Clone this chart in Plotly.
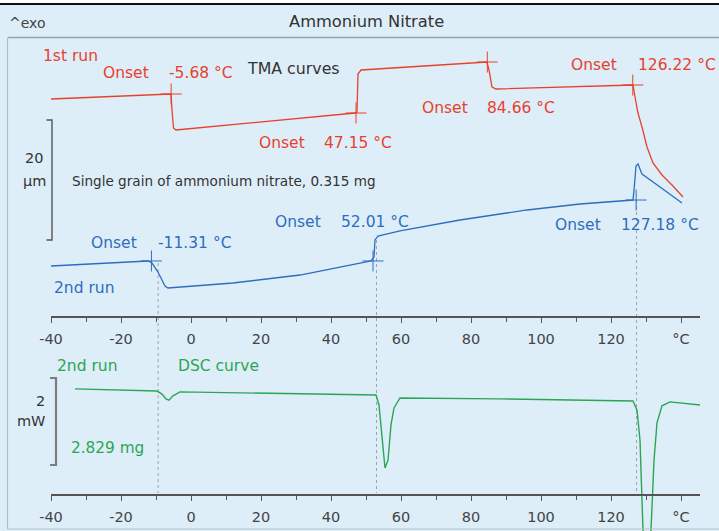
import plotly.graph_objects as go

W, H = 719, 531

# ---------------- data ----------------
# TMA 1st run (temperature °C, displacement µm, arbitrary offset)
run1_T = [-40.0, -6.0, -5.71, -5.43, -5.0, -4.29, 21.14, 46.86, 47.43, 47.71, 48.57, 84.57, 85.14, 86.0, 87.14,
          126.29, 126.86, 127.71, 128.86, 130.29, 132.0, 134.57, 137.43, 140.57]
run1_um = [36.17, 37.0, 37.0, 34.33, 31.33, 31.0, 32.4, 33.83, 34.0, 40.33, 41.0, 42.33, 41.0, 38.17, 37.83,
           38.5, 36.5, 33.83, 31.5, 28.17, 25.5, 23.5, 21.83, 19.83]

# TMA 2nd run
run2_T = [-40.0, -26.0, -12.29, -11.14, -9.43, -7.43, -6.57, 12.0, 31.14, 48.29, 51.43, 52.29, 52.57, 53.43,
          59.71, 76.86, 96.0, 111.14, 126.29, 126.71, 127.14, 127.71, 128.86, 134.0, 140.29]
run2_um = [8.33, 8.75, 9.17, 8.83, 7.33, 5.0, 4.67, 5.5, 6.83, 8.83, 9.17, 9.83, 12.67, 13.33,
           14.17, 16.0, 17.67, 18.67, 19.33, 21.83, 25.0, 25.33, 23.67, 21.5, 18.83]

# DSC 2nd run (mW, arbitrary offset)
dsc_T = [-33.14, -9.71, -8.29, -7.14, -6.29, -5.14, -3.14, 22.57, 48.29, 52.86, 53.71, 54.57, 55.43, 56.29,
         57.14, 58.0, 59.71, 88.29, 126.29, 127.43, 128.29, 129.14, 130.29, 131.43, 132.29, 133.14, 134.57,
         136.86, 145.43]
dsc_mW = [2.44, 2.39, 2.32, 2.21, 2.18, 2.28, 2.37, 2.34, 2.31, 2.30, 2.07, 1.38, 0.62, 0.80,
          1.61, 2.0, 2.23, 2.21, 2.16, 1.95, 1.26, -0.80, -2.87, -0.80, 0.80, 1.66, 2.05,
          2.14, 2.07]

# Onsets
run1_onset_T = [-5.68, 47.15, 84.66, 126.22]
run1_onset_um = [37.0, 33.83, 42.33, 38.5]
run2_onset_T = [-11.31, 52.01, 127.18]
run2_onset_um = [9.17, 9.17, 19.33]
dsc_marker_T = [-9.4, 53.0, 127.3]

tick_vals = [-40, -20, 0, 20, 40, 60, 80, 100, 120, 140]
tick_text = ["-40", "-20", "0", "20", "40", "60", "80", "100", "120", "°C"]

scale_um = 20
scale_mW = 2

# ---------------- styles ----------------
BG = "#deeef9"
RED = "#e8402c"
BLUE = "#2f6cc0"
GREEN = "#2aa653"
FONT = "DejaVu Sans"


def px(x):
    return x / W


def py(y):
    return 1 - y / H


fig = go.Figure()

fig.add_trace(go.Scatter(x=run1_T, y=run1_um, mode="lines", line=dict(color=RED, width=1.3),
                         xaxis="x", yaxis="y", showlegend=False, hoverinfo="skip"))
fig.add_trace(go.Scatter(x=run2_T, y=run2_um, mode="lines", line=dict(color=BLUE, width=1.3),
                         xaxis="x", yaxis="y", showlegend=False, hoverinfo="skip"))
fig.add_trace(go.Scatter(x=run1_onset_T, y=run1_onset_um, mode="markers",
                         marker=dict(symbol="cross-thin", size=15, line=dict(color=RED, width=1)),
                         xaxis="x", yaxis="y", showlegend=False, hoverinfo="skip"))
fig.add_trace(go.Scatter(x=run2_onset_T, y=run2_onset_um, mode="markers",
                         marker=dict(symbol="cross-thin", size=15, line=dict(color=BLUE, width=1)),
                         xaxis="x", yaxis="y", showlegend=False, hoverinfo="skip"))
fig.add_trace(go.Scatter(x=dsc_T, y=dsc_mW, mode="lines", line=dict(color=GREEN, width=1.4),
                         xaxis="x2", yaxis="y2", showlegend=False, hoverinfo="skip"))

x_dom = [px(51), px(700)]
x_rng = [-40, 145.43]
axis_common = dict(range=x_rng, domain=x_dom, showgrid=False, zeroline=False, showline=True,
                   linecolor="#555555", linewidth=1.5, ticks="outside", ticklen=5, tickwidth=1,
                   tickcolor="#555555", tickmode="array", tickvals=tick_vals, ticktext=tick_text,
                   tickfont=dict(family=FONT, size=14.5, color="#444444"),
                   minor=dict(ticks="outside", ticklen=4, tickcolor="#555555", dtick=10, showgrid=False),
                   fixedrange=True, ticklabelstandoff=4, automargin=False)

fig.update_layout(
    template="none",
    width=W, height=H, autosize=False,
    margin=dict(l=0, r=0, t=0, b=0, pad=0),
    paper_bgcolor=BG, plot_bgcolor="rgba(0,0,0,0)",
    xaxis=dict(anchor="y", **axis_common),
    xaxis2=dict(anchor="free", position=py(495), **axis_common),
    yaxis=dict(domain=[py(316), py(40)], range=[0, 46], visible=False, fixedrange=True, automargin=False),
    yaxis2=dict(domain=[0, py(340)], range=[(495 - 531) / 43.5, (495 - 340) / 43.5],
                visible=False, fixedrange=True, automargin=False),
)

shapes = []
# frame
shapes.append(dict(type="rect", xref="paper", yref="paper", x0=0, x1=1, y0=py(3), y1=1,
                   fillcolor="white", line=dict(width=0), layer="below"))
shapes.append(dict(type="rect", xref="paper", yref="paper", x0=0, x1=1, y0=py(5), y1=py(3),
                   fillcolor="#111111", line=dict(width=0), layer="above"))
shapes.append(dict(type="line", xref="paper", yref="paper", x0=px(8), x1=1, y0=py(37.5), y1=py(37.5),
                   line=dict(color="#9aa0a4", width=1.5)))
shapes.append(dict(type="line", xref="paper", yref="paper", x0=px(7.5), x1=px(7.5), y0=py(37.5), y1=py(529),
                   line=dict(color="#b5bcc0", width=1.2)))
shapes.append(dict(type="line", xref="paper", yref="paper", x0=px(7.5), x1=1, y0=py(529), y1=py(529),
                   line=dict(color="#b5bcc0", width=1.2)))
# dotted DSC marker lines
for t, ytop in zip(dsc_marker_T, [263, 240, 200]):
    shapes.append(dict(type="line", xref="x", yref="paper", x0=t, x1=t, y0=py(ytop), y1=py(493),
                       line=dict(color="#9aa4ab", width=1, dash="dot"), layer="below"))
# scale brackets
b0 = 12.67
shapes.append(dict(type="path", xref="paper", yref="y",
                   path=f"M {px(46.5)},{b0 + scale_um} L {px(52)},{b0 + scale_um} L {px(52)},{b0} L {px(46.5)},{b0}",
                   line=dict(color="#555555", width=1.4)))
m0 = (495 - 465) / 43.5
shapes.append(dict(type="path", xref="paper", yref="y2",
                   path=f"M {px(50)},{m0 + scale_mW} L {px(56)},{m0 + scale_mW} L {px(56)},{m0} L {px(50)},{m0}",
                   line=dict(color="#7d7d7d", width=2.2)))
fig.update_layout(shapes=shapes)

ann = []


def label(text, x, y, color, size=15.5, anchor="left"):
    ann.append(dict(text=text, x=px(x), y=py(y), xref="paper", yref="paper", xanchor=anchor,
                    yanchor="middle", showarrow=False, font=dict(family=FONT, size=size, color=color)))


label("^exo", 7, 23, "#444444", 14)
label("Ammonium Nitrate", 366, 22, "#333333", 16.3, "center")
label("1st run", 41, 56, RED, 15.5)
label("TMA curves", 245, 68, "#333333", 15.8)

red_pos = [(101, 167, 73), (257, 322, 143), (420, 485, 108), (569, 636, 65)]
for t, (xo, xv, yy) in zip(run1_onset_T, red_pos):
    label("Onset", xo, yy, RED)
    label(f"{t:.2f} °C", xv, yy, RED)

blue_pos = [(89, 156, 243), (273, 339, 222), (553, 619, 225)]
for t, (xo, xv, yy) in zip(run2_onset_T, blue_pos):
    label("Onset", xo, yy, BLUE)
    label(f"{t:.2f} °C", xv, yy, BLUE)

label("2nd run", 52, 288, BLUE, 15.5)
label(str(scale_um), 34, 158, "#333333", 14.5, "center")
label("µm", 34, 181, "#333333", 14.5, "center")
label("Single grain of ammonium nitrate, 0.315 mg", 70, 181, "#333333", 13.6)

label("2nd run", 55, 366, GREEN, 15.5)
label("DSC curve", 176, 366, GREEN, 15.5)
label("2.829 mg", 69, 448, GREEN, 15.3)
label(str(scale_mW), 40, 401, "#333333", 14.5, "center")
label("mW", 31, 421, "#333333", 14.5, "center")

fig.update_layout(annotations=ann)

fig.write_html("out.html", config={"displayModeBar": False},
               post_script="document.body.style.margin='0';")
